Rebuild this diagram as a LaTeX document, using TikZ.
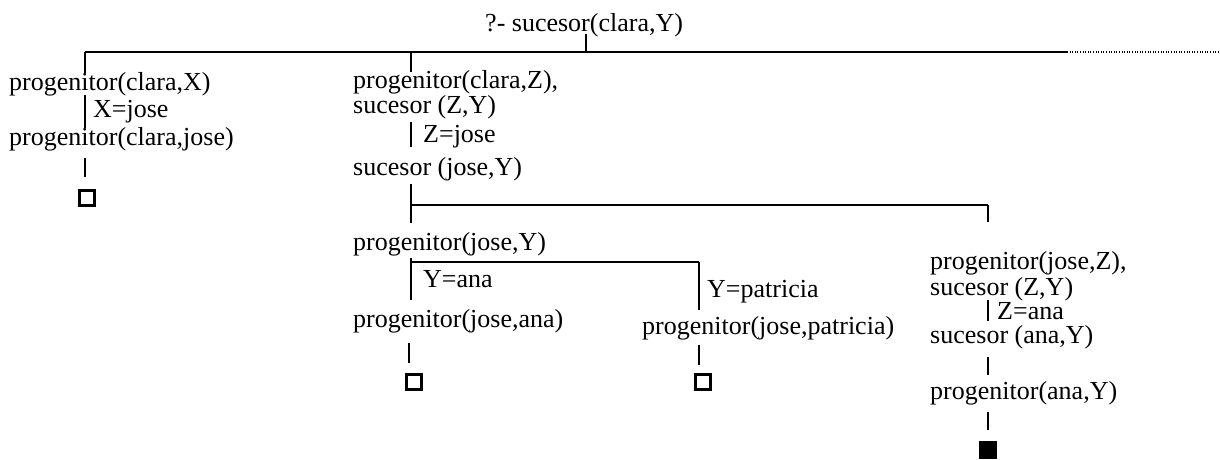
\documentclass[tikz,border=0pt]{standalone}
\usepackage{fontspec}
\setmainfont{Liberation Serif}
\begin{document}
\begin{tikzpicture}[x=1pt,y=-1pt,
  lbl/.style={anchor=base west, inner sep=0pt, font=\fontsize{26}{26}\selectfont},
  edge/.style={line width=1.5pt},
  cont/.style={line width=1.2pt, dash pattern=on 1pt off 1.6pt},
  leaf/.style={draw, line width=2.2pt, minimum size=15pt, inner sep=0pt},
  fail/.style={fill, minimum size=18pt, inner sep=0pt}]
\useasboundingbox (0,0) rectangle (1220,459);

% root
\node[lbl] (root) at (485,31) {?- sucesor(clara,Y)};
\coordinate (rootB) at (586,34);
\coordinate (barC) at (586,52);
\coordinate (barL) at (85,52);
\coordinate (barM) at (411,52);
\coordinate (barR) at (1067,52);
\coordinate (barE) at (1220,52);
\draw[edge] (rootB) -- (barC);
\draw[edge] (barL) -- (barR);
\draw[cont] (barR) -- (barE);

% left branch
\node[lbl] (a1) at (9,90) {progenitor(clara,X)};
\node[lbl] (a1s) at (93,117) {X=jose};
\node[lbl] (a2) at (9,145) {progenitor(clara,jose)};
\node[leaf] (a3) at (87,198) {};
\coordinate (a1t) at (85,73);
\coordinate (a1b) at (85,95);
\coordinate (a2t) at (85,128);
\coordinate (a2b) at (85,158);
\coordinate (a3t) at (85,177);
\draw[edge] (barL) -- (a1t);
\draw[edge] (a1b) -- (a2t);
\draw[edge] (a2b) -- (a3t);

% middle branch
\node[lbl] (b1) at (353,88) {progenitor(clara,Z),};
\node[lbl] (b2) at (353,113) {sucesor (Z,Y)};
\node[lbl] (b2s) at (423,142) {Z=jose};
\node[lbl] (b3) at (353,175) {sucesor (jose,Y)};
\coordinate (b1t) at (411,72);
\coordinate (b2b) at (411,122);
\coordinate (b3t) at (411,147);
\coordinate (b3b) at (411,184);
\coordinate (barM2) at (411,205);
\coordinate (barR2) at (988,205);
\coordinate (c1t) at (411,223);
\draw[edge] (barM) -- (b1t);
\draw[edge] (b2b) -- (b3t);
\draw[edge] (b3b) -- (c1t);
\draw[edge] (barM2) -- (barR2);

% progenitor(jose,Y)
\node[lbl] (c1) at (353,250) {progenitor(jose,Y)};
\coordinate (c1b) at (411,258);
\coordinate (barM3) at (411,262);
\coordinate (barR3) at (699,262);
\coordinate (c2t) at (411,300);
\draw[edge] (c1b) -- (c2t);
\draw[edge] (barM3) -- (barR3);
\node[lbl] (c1s) at (423,287) {Y=ana};
\node[lbl] (c2) at (353,327) {progenitor(jose,ana)};
\coordinate (c2b) at (409,343);
\coordinate (c3t) at (409,363);
\draw[edge] (c2b) -- (c3t);
\node[leaf] (c3) at (414,382) {};

% patricia
\coordinate (d1t) at (699,310);
\draw[edge] (barR3) -- (d1t);
\node[lbl] (d1s) at (707,297) {Y=patricia};
\node[lbl] (d1) at (642,334) {progenitor(jose,patricia)};
\coordinate (d1b) at (699,345);
\coordinate (d2t) at (699,365);
\draw[edge] (d1b) -- (d2t);
\node[leaf] (d2) at (703,382) {};

% right branch
\coordinate (e1t) at (988,222);
\draw[edge] (barR2) -- (e1t);
\node[lbl] (e1) at (930,269) {progenitor(jose,Z),};
\node[lbl] (e2) at (930,295) {sucesor (Z,Y)};
\coordinate (e2b) at (988,300);
\coordinate (e3t) at (988,321);
\draw[edge] (e2b) -- (e3t);
\node[lbl] (e2s) at (997,319) {Z=ana};
\node[lbl] (e3) at (930,343) {sucesor (ana,Y)};
\coordinate (e3b) at (988,357);
\coordinate (e4t) at (988,375);
\draw[edge] (e3b) -- (e4t);
\node[lbl] (e4) at (930,399) {progenitor(ana,Y)};
\coordinate (e4b) at (988,412);
\coordinate (e5t) at (988,430);
\draw[edge] (e4b) -- (e5t);
\node[fail] (e5) at (988,450) {};
\end{tikzpicture}
\end{document}
